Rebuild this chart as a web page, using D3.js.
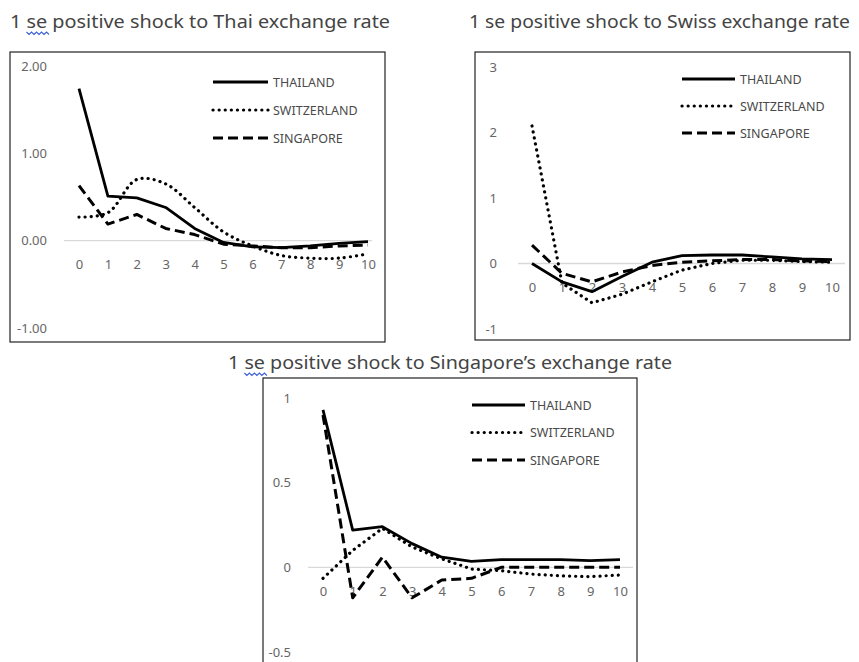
<!DOCTYPE html>
<html><head><meta charset="utf-8">
<script src="https://cdn.jsdelivr.net/npm/d3@7"></script>
<style>
body{margin:0;background:#fff;}
svg{display:block;font-family:"Noto Sans",sans-serif;}
</style></head>
<body><svg id="c" width="859" height="662"></svg>
<script>
const periods = [0,1,2,3,4,5,6,7,8,9,10];
const seriesNames = ["THAILAND","SWITZERLAND","SINGAPORE"];

// Panel 1: shock to Thai exchange rate
const thaiShockThailand    = [1.74,0.51,0.49,0.38,0.14,-0.02,-0.07,-0.08,-0.06,-0.03,-0.01];
const thaiShockSwitzerland = [0.27,0.32,0.70,0.65,0.38,0.10,-0.06,-0.17,-0.20,-0.20,-0.15];
const thaiShockSingapore   = [0.63,0.19,0.30,0.14,0.07,-0.04,-0.06,-0.08,-0.08,-0.06,-0.05];
const thaiTicks = [-1,0,1,2];

// Panel 2: shock to Swiss exchange rate
const swissShockThailand    = [0.00,-0.28,-0.43,-0.20,0.02,0.12,0.13,0.13,0.10,0.07,0.06];
const swissShockSwitzerland = [2.10,-0.30,-0.60,-0.47,-0.28,-0.10,0.00,0.05,0.05,0.03,0.02];
const swissShockSingapore   = [0.28,-0.15,-0.28,-0.13,-0.03,0.02,0.04,0.06,0.06,0.04,0.03];
const swissTicks = [-1,0,1,2,3];

// Panel 3: shock to Singapore's exchange rate
const sgShockThailand    = [0.93,0.22,0.24,0.14,0.06,0.035,0.045,0.045,0.045,0.04,0.045];
const sgShockSwitzerland = [-0.065,0.10,0.23,0.12,0.05,-0.01,-0.02,-0.04,-0.05,-0.055,-0.045];
const sgShockSingapore   = [0.90,-0.18,0.06,-0.18,-0.075,-0.065,0.00,0.00,0.00,0.00,0.00];
const sgTicks = [-0.5,0,0.5,1];

const titles = ["1 se positive shock to Thai exchange rate",
                "1 se positive shock to Swiss exchange rate",
                "1 se positive shock to Singapore\u2019s exchange rate"];

const svg = d3.select("#c");

const styles = [
  {width:2.8, dash:null, cap:"butt"},
  {width:3.2, dash:"0.1,6", cap:"round"},
  {width:3, dash:"10,5", cap:"butt"}
];

function fmtHyphen(spec){
  const f = d3.format(spec);
  return d => f(d).replace("\u2212","-");
}

function panel(o){
  const g = svg.append("g");
  g.append("rect").attr("x",o.box[0]).attr("y",o.box[1]).attr("width",o.box[2]-o.box[0]).attr("height",o.box[3]-o.box[1])
    .attr("fill","#fff").attr("stroke","#222").attr("stroke-width",1.2);
  const x = d3.scaleLinear().domain([0,10]).range(o.xr);
  const y = d3.scaleLinear().domain(o.yd).range(o.yr);
  g.append("line").attr("x1",o.zl[0]).attr("x2",o.zl[1]).attr("y1",y(0)).attr("y2",y(0))
    .attr("stroke","#d9d9d9").attr("stroke-width",1.3);
  const ya = g.append("g").attr("transform",`translate(${o.yx},0)`)
    .call(d3.axisLeft(y).tickValues(o.ticks).tickSize(0).tickPadding(0).tickFormat(fmtHyphen(o.fmt)));
  ya.select(".domain").remove();
  ya.selectAll("text").attr("fill","#666").style("font-size","13px").style("font-family","'Noto Sans',sans-serif");
  const xa = g.append("g").attr("transform",`translate(0,${y(0)})`)
    .call(d3.axisBottom(x).tickValues(periods).tickSize(0).tickPadding(19).tickFormat(d3.format("d")));
  xa.select(".domain").remove();
  xa.selectAll("text").attr("fill","#666").style("font-size","13px").style("font-family","'Noto Sans',sans-serif");
  o.data.forEach((vals,i)=>{
    const curve = (o.smooth && o.smooth[i]) ? d3.curveCatmullRom.alpha(0.5) : d3.curveLinear;
    const line = d3.line().x((d,j)=>x(periods[j])).y(d=>y(d)).curve(curve);
    const p = g.append("path").datum(vals).attr("d",line).attr("fill","none").attr("stroke","#000")
      .attr("stroke-width",styles[i].width).attr("stroke-linecap",styles[i].cap).attr("stroke-linejoin","round");
    if(styles[i].dash) p.attr("stroke-dasharray",styles[i].dash);
  });
  seriesNames.forEach((n,i)=>{
    const ly = o.leg[1] + i*o.leg[3];
    const l = g.append("line").attr("x1",o.leg[0]).attr("x2",o.leg[0]+o.leg[2]).attr("y1",ly).attr("y2",ly)
      .attr("stroke","#000").attr("stroke-width",styles[i].width).attr("stroke-linecap",styles[i].cap);
    if(styles[i].dash) l.attr("stroke-dasharray",styles[i].dash);
    g.append("text").attr("x",o.leg[0]+o.leg[2]+5).attr("y",ly).attr("dy","0.36em")
      .attr("fill","#4a4a4a").style("font-size","12.5px").text(n);
  });
  const t = svg.append("text").attr("x",o.title[0]).attr("y",o.title[1]).attr("fill","#444")
    .style("font-size","18px").text(o.titleText);
  if(o.titleW) t.attr("textLength",o.titleW).attr("lengthAdjust","spacingAndGlyphs");
  if(o.squiggle){
    const n = t.node();
    const s = n.getStartPositionOfChar(2).x, e = n.getEndPositionOfChar(3).x;
    const by = o.title[1] + 4;
    let d = `M${s},${by}`;
    for(let xx=s, k=0; xx<e; xx+=2.5, k++) d += ` L${xx+2.5},${by + (k%2?0:2.5)}`;
    svg.append("path").attr("d",d).attr("fill","none").attr("stroke","#3b5fd6").attr("stroke-width",1.1);
  }
}

panel({box:[10,52,385,342], xr:[79,368], yd:[-1,2], yr:[328,66], zl:[64,372], yx:47, ticks:thaiTicks, fmt:".2f",
  data:[thaiShockThailand,thaiShockSwitzerland,thaiShockSingapore], smooth:[false,true,false],
  leg:[213,82,55,28], title:[10,28], titleText:titles[0], titleW:380, squiggle:true});
panel({box:[475,52,850,340], xr:[532,832], yd:[-1,3], yr:[329,67], zl:[518,845], yx:497, ticks:swissTicks, fmt:"d",
  data:[swissShockThailand,swissShockSwitzerland,swissShockSingapore],
  leg:[682,79,53,27], title:[469,28], titleText:titles[1], titleW:381, squiggle:false});
panel({box:[263,378,637,690], xr:[323,620], yd:[-0.5,1], yr:[652,398], zl:[308,633], yx:291, ticks:sgTicks, fmt:"",
  data:[sgShockThailand,sgShockSwitzerland,sgShockSingapore],
  leg:[472,405,53,27.5], title:[228,369], titleText:titles[2], titleW:444, squiggle:true});
</script></body></html>
